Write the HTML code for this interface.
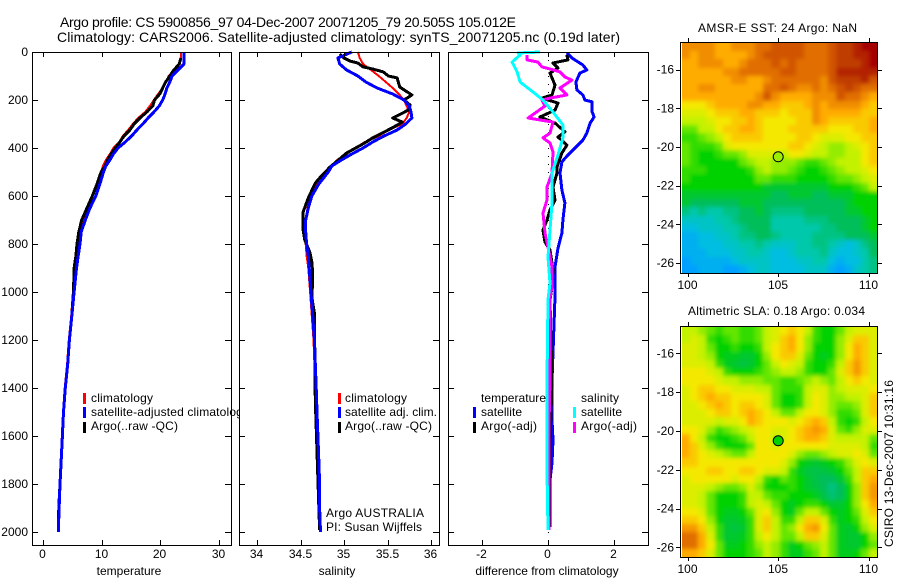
<!DOCTYPE html>
<html>
<head>
<meta charset="utf-8">
<title>Argo profile</title>
<style>
html,body{margin:0;padding:0;background:#fff;}
svg{display:block;font-family:"Liberation Sans",Arial,sans-serif;fill:#000;}
svg text{font-size:12px;}
.t14{font-size:14px;}
.line{fill:none;stroke-linejoin:round;shape-rendering:crispEdges;}
</style>
</head>
<body>
<svg id="figure" xmlns="http://www.w3.org/2000/svg" width="900" height="580" viewBox="0 0 900 580">
  <defs>
    <clipPath id="clip-panel-1"><rect x="32" y="52" width="207" height="494"/></clipPath>
    <clipPath id="clip-map-sst"><rect x="682" y="43" width="195" height="230"/></clipPath>
    <clipPath id="clip-map-sla"><rect x="682" y="327" width="195" height="230"/></clipPath>
    <filter id="map-soften" x="-10%" y="-10%" width="120%" height="120%"><feGaussianBlur stdDeviation="2.2"/></filter>
  </defs>
  <rect x="0" y="0" width="900" height="580" fill="#fff"/>
  <text class="t14" x="60" y="27" textLength="456">Argo profile: CS 5900856_97 04-Dec-2007 20071205_79 20.505S 105.012E</text>
  <text class="t14" x="57" y="42" textLength="563">Climatology: CARS2006. Satellite-adjusted climatology: synTS_20071205.nc (0.19d later)</text>

  <g id="panel-t"></g>
  <g clip-path="url(#clip-panel-1)">
    <rect x="83" y="393" width="3" height="11" fill="#ff0000"/>
    <rect x="83" y="407" width="3" height="11" fill="#0000ff"/>
    <rect x="83" y="422" width="3" height="11" fill="#000"/>
    <text x="91" y="402" textLength="62">climatology</text>
    <text x="91" y="416" textLength="158">satellite-adjusted climatology</text>
    <text x="91" y="430" textLength="87">Argo(..raw -QC)</text>
  </g>
  <g id="frame-t"></g>

  <g id="panel-s"></g>
  <g>
    <rect x="338" y="393" width="3" height="11" fill="#ff0000"/>
    <rect x="338" y="407" width="3" height="11" fill="#0000ff"/>
    <rect x="338" y="422" width="3" height="11" fill="#000"/>
    <text x="345" y="402" textLength="62">climatology</text>
    <text x="345" y="416" textLength="92">satellite adj. clim.</text>
    <text x="345" y="430" textLength="87">Argo(..raw -QC)</text>
    <text x="326" y="517" textLength="98">Argo AUSTRALIA</text>
    <text x="326" y="531" textLength="96">PI: Susan Wijffels</text>
  </g>
  <g id="frame-s"></g>

  <g id="panel-d"></g>
  <g>
    <text x="481" y="402" textLength="65">temperature</text>
    <text x="581" y="402" textLength="38">salinity</text>
    <rect x="473" y="407" width="3" height="11" fill="#0000ff"/>
    <rect x="473" y="422" width="3" height="11" fill="#000"/>
    <rect x="573" y="407" width="3" height="11" fill="#00ffff"/>
    <rect x="573" y="422" width="3" height="11" fill="#ff00ff"/>
    <text x="481" y="416" textLength="41">satellite</text>
    <text x="481" y="430" textLength="56">Argo(-adj)</text>
    <text x="581" y="416" textLength="41">satellite</text>
    <text x="581" y="430" textLength="56">Argo(-adj)</text>
  </g>
  <g id="frame-d"></g>

  <text x="698" y="32" textLength="159">AMSR-E SST: 24 Argo: NaN</text>
  <g id="map-sst"></g>
  <text x="688" y="315" textLength="177">Altimetric SLA: 0.18 Argo: 0.034</text>
  <g id="map-sla"></g>
  <text transform="translate(893,547) rotate(-90)" textLength="167">CSIRO 13-Dec-2007 10:31:16</text>
</svg>

<script>
// ---------- data ----------
const depthTicks = [0,200,400,600,800,1000,1200,1400,1600,1800,2000];
const tempTicks = [0,10,20,30];
const salTicks = [34,34.5,35,35.5,36];
const diffTicks = [-2,0,2];
const lonTicks = [100,105,110];
const latTicks = [16,18,20,22,24,26];

const depths = [0,25,50,75,100,125,150,175,200,225,250,275,300,325,350,375,400,425,450,475,500,550,600,650,700,750,800,850,900,1000,1100,1200,1300,1400,1500,1600,1700,1800,1900,2000];
const tempClim = [23.5,23.5,23.3,22.5,21.4,21,20.4,19.6,18.9,18.2,17.4,16.2,15.3,14.5,13.6,13,12,11.4,10.7,10.2,9.9,9.2,8.5,7.7,6.8,6.3,6,5.6,5.4,5.1,4.8,4.4,4.1,3.7,3.4,3.2,3.1,2.9,2.7,2.55];
const tempSat = [24,24,24,23,22,21.6,21.1,20.8,20.4,19.8,18.9,17.9,17,16,15.1,14,12.8,12,11.4,10.7,10.3,9.7,9,8,7.2,6.5,6.3,6,5.7,5.3,4.9,4.5,4.2,3.8,3.5,3.3,3.1,2.9,2.75,2.6];
const tempArgo = [null,23.5,23.2,22.3,21.6,20.9,20.4,19.9,19,18.7,17.7,16.5,15.5,14.8,13.8,13.1,12.3,11.6,11,10.6,9.9,9.2,8.4,7.5,6.6,6.1,5.8,5.6,5.3,5.2,4.9,4.5,4.2,3.8,3.5,3.3,3.1,2.9,2.7,2.6];

const salClim = [35.16,35.18,35.22,35.31,35.40,35.48,35.56,35.63,35.69,35.72,35.75,35.72,35.67,35.51,35.40,35.24,35.13,35.03,34.92,34.85,34.79,34.69,34.62,34.58,34.56,34.55,34.56,34.57,34.59,34.61,34.63,34.65,34.66,34.67,34.68,34.69,34.70,34.71,34.72,34.73];
const salSat = [35.09,34.93,34.95,35.03,35.16,35.25,35.38,35.56,35.69,35.75,35.77,35.78,35.71,35.61,35.46,35.33,35.22,35.09,34.97,34.86,34.82,34.71,34.63,34.59,34.56,34.56,34.57,34.59,34.60,34.62,34.64,34.66,34.67,34.68,34.69,34.70,34.71,34.72,34.72,34.73];
const salArgoDepth = [8,25,38,46,62,71,83,100,108,146,179,200,221,242,275,292,317,358,383,421,479,512,546,608,667,742,783,838,875,921,950,1021,1088,1450,1992];
const salArgo = [34.95,35.0,35.07,35.16,35.22,35.33,35.45,35.51,35.61,35.64,35.78,35.69,35.76,35.74,35.56,35.67,35.55,35.33,35.22,35.03,34.84,34.75,34.67,34.59,34.53,34.53,34.55,34.61,34.63,34.64,34.64,34.63,34.66,34.67,34.72];

const diffTSatDepth = [4,25,54,75,88,125,158,179,200,208,250,271,296,338,367,400,429,458,504,575,629,700,754,817,896,1021,1367,1533,1617,1713,1783,1992];
const diffTSat = [.57,.72,1.05,1.17,.96,.84,.87,1.05,1.11,1.33,1.33,1.39,1.27,1.17,1.05,.81,.60,.42,.36,.42,.51,.45,.42,.30,.21,.21,.12,.12,.15,.12,.06,.03];
const diffTArgoDepth = [12,33,46,67,88,138,179,192,213,242,271,296,333,354,388,421,479,504,563,617,658,700,742,792,825,908,979,1033,1367,1646,1979];
const diffTArgo = [.57,.6,.15,.3,.06,.21,.12,-.18,.3,.21,-.24,.21,.51,.3,.57,.42,.27,.27,.15,.21,.06,-.03,-.15,-.09,.06,.15,.12,.06,.12,.06,.06];
const diffSSatDepth = [0,4,12,42,83,125,167,200,250,304,358,429,504,629,742,854,963,1033,1367,1742,1992];
const diffSSat = [-.24,-.9,-.84,-1.08,-.93,-.84,-.45,-.15,.15,.45,.45,.3,.12,.12,.06,0,.06,0,-.03,-.03,0];
const diffSArgoDepth = [12,33,42,62,71,83,104,117,150,179,192,200,225,275,292,338,358,379,417,504,563,617,671,754,813,896,979,1021,1367,1546,1992];
const diffSArgo = [-.63,-.63,-.3,-.18,.06,.36,.51,.72,.36,.57,.06,-.18,-.09,-.6,.15,.06,-.15,.06,.15,.12,-.03,-.03,-.15,-.09,0,.12,.12,.06,.06,.03,.03];

const sstGrid = [
[8.5,8.5,8.5,8.5,8,8,8.5,8.5,8.5,9,9,9.5,9.5,9.5,9.5,9,9,9,9.5,10,10,10.5,11,11],
[8.5,8,8.5,8.5,8,8,8,8,8.5,9,9.5,9.5,9.5,9.5,9.5,9,9,9,9.5,10,10,10.5,10.5,11],
[8,8,8.5,8.5,8.5,8,8,8.5,9,9,9,9.5,9,9.5,9,9,9,9,9.5,10,10,10,10.5,11],
[8,8,8,8,8,8.5,8.5,9,9,9,9,9,9.5,9.5,9,9,9,9,9.5,10.5,10.5,10.5,10.5,10.5],
[8,8,8,8,8,8,8.5,8.5,8,8,8.5,9,9,9,9,9,9,8.5,9.5,10,10,10,10.5,9.5],
[8,8,8.5,8.5,8,8,8,8,8,8,9,9,9.5,9,8.5,8.5,9,8.5,9,9.5,10,9.5,9,9],
[8,8,8,8,8,8,8,8,8,8.5,9.5,8.5,8,8,8,8,8.5,8.5,8.5,9.5,9,9,8.5,8],
[7,7,7,7.5,8,8,8,8,8.5,8.5,8,8,7.5,7.5,7.5,8,8.5,8,8.5,8.5,8.5,8.5,8,7.5],
[6.5,6.5,6.5,7,7.5,7.5,7.5,8,8,7.5,7.5,7.5,7,7.5,7.5,7.5,8.5,8,8,8,8,8,7.5,7.5],
[6,6,6,6.5,7,7,7.5,7.5,8,7.5,7,7,7,7,7.5,7.5,8.5,8,7.5,7.5,7.5,7.5,7.5,8],
[5,5,6,6,7,7.5,7.5,8,8,7.5,7,7,7,7.5,7.5,7.5,7.5,7.5,7,7,7,7.5,7.5,8],
[4.5,4.5,5,5.5,6,7,7.5,7.5,7.5,7.5,7,7,7,7,7.5,7.5,7,6.5,6.5,6.5,7,7,7.5,7.5],
[5,4.5,4.5,4.5,5,6.5,7,7,7,7,7,7,7,7.5,7.5,7,6.5,6,5.5,5.5,6,6.5,7,7.5],
[5,4.5,4,4,4.5,5,5,5.5,6.5,6.5,6.5,6.5,6,7,7,6.5,6,6,5.5,5.5,6,6,7,7.5],
[5,4.5,4,4,4,4,4,5,5.5,6,6,5.5,5.5,5.5,5,4.5,4.5,5,5.5,6,6,6,7,7.5],
[4.5,4.5,4.5,4,4,4,4,4,4.5,5.5,6,5.5,5.5,5,4.5,4,4,4.5,5,5.5,6,6,6.5,7],
[4.5,4,4,4,4,4,4,4,4,5,5,4.5,4.5,4.5,4,4,4,4,4.5,5,5,5.5,6,6.5],
[4,4,4,4,4,4,4,4,4,4,3.5,3.5,3.5,3.5,3.5,3.5,3.5,3.5,4,4,4,4.5,5,6],
[3.5,3.5,3.5,3.5,3.5,3.5,3.5,3.5,3.5,3.5,3.5,3,3,3.5,3.5,3.5,3,3,3.5,3.5,3.5,4,4,4],
[3.5,3,3,3,3,3,3,3.5,3.5,3.5,3,3,3,3,3,3,3,3,3,3,3.5,4,4,4],
[2.5,2,2.5,2,2,2.5,2.5,3,3,3.5,3,2.5,2.5,2.5,2.5,3,3,3,3,3,3.5,3.5,4,4],
[1.5,1.5,1.5,1.5,2,2,2.5,3,3,3,3,2,2,2,2,2.5,2.5,2.5,3,3,3,3,3.5,4],
[1,1,1.5,1.5,1.5,2,2,2.5,3,3,3,2,2,2,2,2,2,2.5,2.5,3,3,3,3.5,4],
[.5,.5,1,1,1.5,1.5,2,2.5,2.5,3,3,2.5,2,2,2,2,2.5,2.5,2.5,2.5,3,3,3,3.5],
[.5,.5,1,1,1,1.5,1.5,2,2,2.5,2,1.5,1.5,1.5,2,2,2.5,2.5,2,1.5,1,1.5,2.5,3],
[.5,.5,.5,1,1,1,1.5,1.5,2,2,1.5,1,1,1.5,2,2,2,2.5,1.5,1,1,1.5,2,3],
[0,.5,.5,.5,.5,.5,1,1.5,1.5,1.5,1.5,1,1,1,1.5,1.5,2,2,1,.5,1,1,2,2.5],
[0,0,.5,.5,.5,0,0,.5,1,1.5,1.5,1,1,1,1,1.5,1.5,1.5,.5,0,.5,1.5,2,2.5]
];
const slaGrid = [
[6,6,5.5,5,4.5,5,5,4.5,4.5,5,6,6.5,7,7.5,7,6,4.5,4,4,5,6,6.5,6.5,6.5],
[6,6.5,6,4.5,4,4.5,5,4.5,4.5,5,6,6.5,7.5,8,7,5.5,4.5,4,4,5.5,6.5,7.5,7.5,6.5],
[6.5,6.5,6,5,4,4,4.5,4,4,4.5,6,7,7.5,8,7,5.5,4,4,4,5.5,7,8,7.5,6.5],
[6.5,6.5,6,5.5,4,3.7,3.7,3.5,3.5,4,5.5,7,7.5,7.5,6.5,5,4,3.7,4,5.5,7,8,7.5,6.5],
[6.5,6.5,6.5,6,4.5,3.7,3.5,3.3,3.5,4,5,6,7,6.5,6,4.5,4,4,4.5,6,7.5,8.3,7.5,6.5],
[7,7,7,6.5,6,4.5,4,4,4,4.5,5,5.5,6,6,5.5,4.5,4,4,5,6.5,7.5,8.3,7.5,6.5],
[7,7,7,7,6.5,6,6,5.5,5.5,5.5,5,5,4.5,4.5,5,5.5,6,5.5,5,6,7,7.5,7,6.5],
[6.5,7,7.5,7.5,7,7,6.5,6.5,6.5,6,6,5,4.5,4.5,4.5,6,6.5,6.5,5.5,6,6.5,6.5,6.5,7],
[6.5,7,7.5,8,7.5,7.5,7,7,7,7,6.5,5,4,4,4.5,6,7,6.5,5.5,5.5,6,6,6.5,7.5],
[6.5,6.5,7,7.5,8,7.5,7,7.5,7.5,7,6.5,5,4,4,4.5,6,7,6.5,5.5,5,5,5.5,6.5,7.5],
[6.5,6.5,6.5,7,7.5,7.5,7,7.5,8,7.5,7,6,5,5,6,7,7,6.5,5.5,4.5,4.5,5,6.5,7.5],
[6.5,6.5,6.5,6.5,6,6.5,6.5,7,8,7.5,7,7,7,6.5,7,7.5,8,7.5,6,4.5,4,4.5,6,7],
[7,7,6.5,5.5,4.5,5,5.5,6,6.5,7,7,6.5,6.5,7,7.5,8,8.3,8,6.5,5,4.5,5.5,6.5,6.5],
[8,7,6,4.5,4,4,4.5,5,6,7,7,6,6.5,7,7.5,8,8,7.5,6.5,6,6,6,6,5],
[8,7.5,6.5,5.5,4.5,4,4,4,5,7,7,6.5,7,7,7,7,7,7,6.5,6.5,6.5,6.5,6,4.5],
[8,7.5,7,6.5,6,5.5,5,5,6,7,7,7,7,6.5,5.5,5,5,5.5,6,6.5,6.5,7,6.5,5],
[7.5,7.5,7,7,7,7,7,7,7,7,7,7,6.5,5.5,4,3.7,3.5,3.7,4,4.5,5.5,6.5,7,6.5],
[7,7,7,7.5,7.5,7,7,7.5,7.5,7,6.5,6.5,6,4.5,3.7,3.3,3.2,3.3,3.5,4,5,6,7.5,7.5],
[6.5,7,7,7,7,7,6.5,7,7,6,4.5,4,5,4.5,4,3.5,3.2,3,3,3.5,4.5,6,7.5,8],
[6.5,6.5,6.5,6,5.5,5,5,5.5,6.5,5.5,4,4,4,4.5,4,3.5,3.3,3,2.5,3,4,5.5,7.5,8.3],
[6.5,6.5,6,5,4,4,4,4.5,6,6,5,4.5,4.5,4,4,4,3.7,3.2,2.7,3,4,5.5,7.5,8.3],
[6.5,6.5,6,5,4,4,4,4.5,6,6.5,6,5,4,3.7,4,4.5,4.5,4,3.5,3.5,4,5.5,7,8],
[7,7,6.5,5,4,3.7,3.7,4,5,6.5,7,5.5,4,3.7,5,6,6,5,4,3.7,4,5,6.5,7.5],
[7.5,7.5,7,5.5,4,3.5,3.5,3.7,4.5,6.5,7.5,6,4.5,4.5,6,7.5,7.5,6.5,4.5,3.7,4,4.5,6,7],
[8.3,8.3,7.5,6,4.5,3.5,3.3,3.5,4.5,6.5,7.5,6,5,5.5,7,8,8.3,7,5,3.7,3.5,4,5.5,6.5],
[9,9,8,6.5,4.5,3.5,3.5,3.7,4.5,6,7,6,5,5,6,7.5,7.5,6.5,5,3.7,3.5,3.5,4,5.5],
[9,9,8,7,5,3.7,3.7,4,4.5,5.5,6,5.5,4.5,3.7,4,5,5.5,6,5,3.7,3.5,3.5,4,5],
[8,8,7.5,6.5,5,4,4,4,4.5,5,6,5.5,4.5,3.7,3.7,4.5,5,6,5,3.7,3.7,4,5,6]
];
const sstMarkerLevel = 5.6;
const slaMarkerLevel = 4;
const argoLat = 20.505;
const argoLon = 105.012;

// ---------- axis functions ----------
const yDepth = d => 52 + 0.24 * d;
const xTemp = v => 43 + 5.87 * v;
const xSal = v => 344 + 87 * (v - 35);
const xDiff = v => 548 + 33.2 * v;
const xLon = v => 778 + 18.1 * (v - 105);
const ySst = v => 147 + 19.35 * (v - 20);
const ySla = v => 431 + 19.4 * (v - 20);

const NS = 'http://www.w3.org/2000/svg';
function add(parent, tag, attrs, text) {
  const e = document.createElementNS(NS, tag);
  for (const k in attrs) e.setAttribute(k, attrs[k]);
  if (text !== undefined) e.textContent = text;
  parent.appendChild(e);
  return e;
}
function series(parent, xFn, ds, vs, color, width) {
  const pts = [];
  vs.forEach((v, i) => { if (v !== null) pts.push(xFn(v).toFixed(1) + ',' + yDepth(ds[i]).toFixed(1)); });
  return add(parent, 'polyline', {class:'line', points:pts.join(' '), stroke:color, 'stroke-width':width});
}

function drawFrame(gid, left, right, xFn, ticks, depthLabels, xLabel, labelX) {
  const g = document.getElementById(gid);
  const top = 52, bottom = 545;
  const fr = add(g, 'rect', {x:left+.5, y:top+.5, width:right-left, height:bottom-top, fill:'none', stroke:'#000', 'shape-rendering':'crispEdges'});
  
  
  depthTicks.forEach(d => {
    const y = Math.round(yDepth(d)) + .5;
    const a = add(g, 'path', {d:`M${left} ${y}H${left+6}M${right} ${y}H${right-6}`, stroke:'#000', fill:'none', 'shape-rendering':'crispEdges'});
    
    
    if (depthLabels) {
      const t = add(g, 'text', {x:28, y:yDepth(d)+4, 'text-anchor':'end'}, String(d));
      
      
    }
  });
  ticks.forEach(v => {
    const x = Math.round(xFn(v)) + .5;
    const a = add(g, 'path', {d:`M${x} ${top}V${top+5}M${x} ${bottom}V${bottom-5}`, stroke:'#000', fill:'none', 'shape-rendering':'crispEdges'});
    
    
    const t = add(g, 'text', {x:x-1, y:558, 'text-anchor':'middle'}, String(v));
    
    
  });
  const l = add(g, 'text', {x:labelX, y:575, 'text-anchor':'middle'}, xLabel);
  
  
}

// ---------- profile panels ----------
const pT = document.getElementById('panel-t');
let s;
s = series(pT, xTemp, depths, tempClim, '#ff0000', 2);


s = series(pT, xTemp, depths, tempArgo, '#000000', 3);


s = series(pT, xTemp, depths, tempSat, '#0000ff', 3);



const pS = document.getElementById('panel-s');
s = series(pS, xSal, depths, salClim, '#ff0000', 2);


s = series(pS, xSal, salArgoDepth, salArgo, '#000000', 3);


s = series(pS, xSal, depths, salSat, '#0000ff', 3);



const pD = document.getElementById('panel-d');
const zero = add(pD, 'line', {x1:xDiff(0)+.5, x2:xDiff(0)+.5, y1:52, y2:545, stroke:'#000', 'stroke-dasharray':'1 7', 'shape-rendering':'crispEdges'});


s = series(pD, xDiff, diffTSatDepth, diffTSat, '#0000ff', 3);


s = series(pD, xDiff, diffTArgoDepth, diffTArgo, '#000000', 3);


s = series(pD, xDiff, diffSArgoDepth, diffSArgo, '#ff00ff', 3);


s = series(pD, xDiff, diffSSatDepth, diffSSat, '#00ffff', 3);



drawFrame('frame-t', 32, 231, xTemp, tempTicks, true, 'temperature', 129);
drawFrame('frame-s', 239, 439, xSal, salTicks, false, 'salinity', 337);
drawFrame('frame-d', 448, 648, xDiff, diffTicks, false, 'difference from climatology', 547);

// ---------- maps ----------
const stops = [[0,160,255],[0,190,225],[0,200,170],[0,190,90],[0,210,0],[100,230,0],[195,242,0],[245,232,0],[255,172,0],[225,110,0],[192,60,0],[165,5,0]];
function levelColor(v) {
  const i = Math.max(0, Math.min(stops.length - 2, Math.floor(v)));
  const f = v - i;
  const c = stops[i].map((a, k) => Math.round(a + (stops[i+1][k] - a) * f));
  return `rgb(${c[0]},${c[1]},${c[2]})`;
}
function drawMap(gid, grid, yFn, frameTop, frameBottom, marker) {
  const g = document.getElementById(gid);
  const x0 = 682, x1 = 877, y0 = frameTop + 1, y1 = frameBottom;
  const rows = grid.length, cols = grid[0].length;
  const clipG = add(g, 'g', {'clip-path':`url(#clip-${gid})`});
  const cells = add(clipG, 'g', {filter:'url(#map-soften)'});
  
  
  grid.forEach((row, r) => row.forEach((v, c) => {
    let xa = Math.round(x0 + (x1 - x0) * c / cols), xb = Math.round(x0 + (x1 - x0) * (c + 1) / cols);
    let ya = Math.round(y0 + (y1 - y0) * r / rows), yb = Math.round(y0 + (y1 - y0) * (r + 1) / rows);
    if (c === 0) xa -= 10;
    if (c === cols - 1) xb += 10;
    if (r === 0) ya -= 10;
    if (r === rows - 1) yb += 10;
    const cell = add(cells, 'rect', {x:xa, y:ya, width:xb-xa, height:yb-ya, fill:levelColor(v), 'shape-rendering':'crispEdges'});
    
    
  }));
  const fr = add(g, 'rect', {x:680.5, y:frameTop+.5, width:197, height:frameBottom-frameTop, fill:'none', stroke:'#000', 'shape-rendering':'crispEdges'});
  
  
  lonTicks.forEach(v => {
    const x = Math.round(xLon(v)) + .5;
    const a = add(g, 'path', {d:`M${x} ${frameTop}v-4M${x} ${frameBottom}v4`, stroke:'#000', fill:'none', 'shape-rendering':'crispEdges'});
    
    
    const t = add(g, 'text', {x:xLon(v), y:frameBottom+16, 'text-anchor':'middle'}, String(v));
    
    
  });
  latTicks.forEach(v => {
    const y = Math.round(yFn(v)) + .5;
    const a = add(g, 'path', {d:`M680 ${y}h-4M878 ${y}h4`, stroke:'#000', fill:'none', 'shape-rendering':'crispEdges'});
    
    
    const t = add(g, 'text', {x:674, y:yFn(v)+4, 'text-anchor':'end'}, '-' + v);
    
    
  });
  const c = add(g, 'circle', {cx:xLon(argoLon), cy:yFn(argoLat), r:5, fill:levelColor(marker), stroke:'#000', 'stroke-width':1});
  
  
}
drawMap('map-sst', sstGrid, ySst, 42, 273, sstMarkerLevel);
drawMap('map-sla', slaGrid, ySla, 326, 557, slaMarkerLevel);
</script>
</body>
</html>
